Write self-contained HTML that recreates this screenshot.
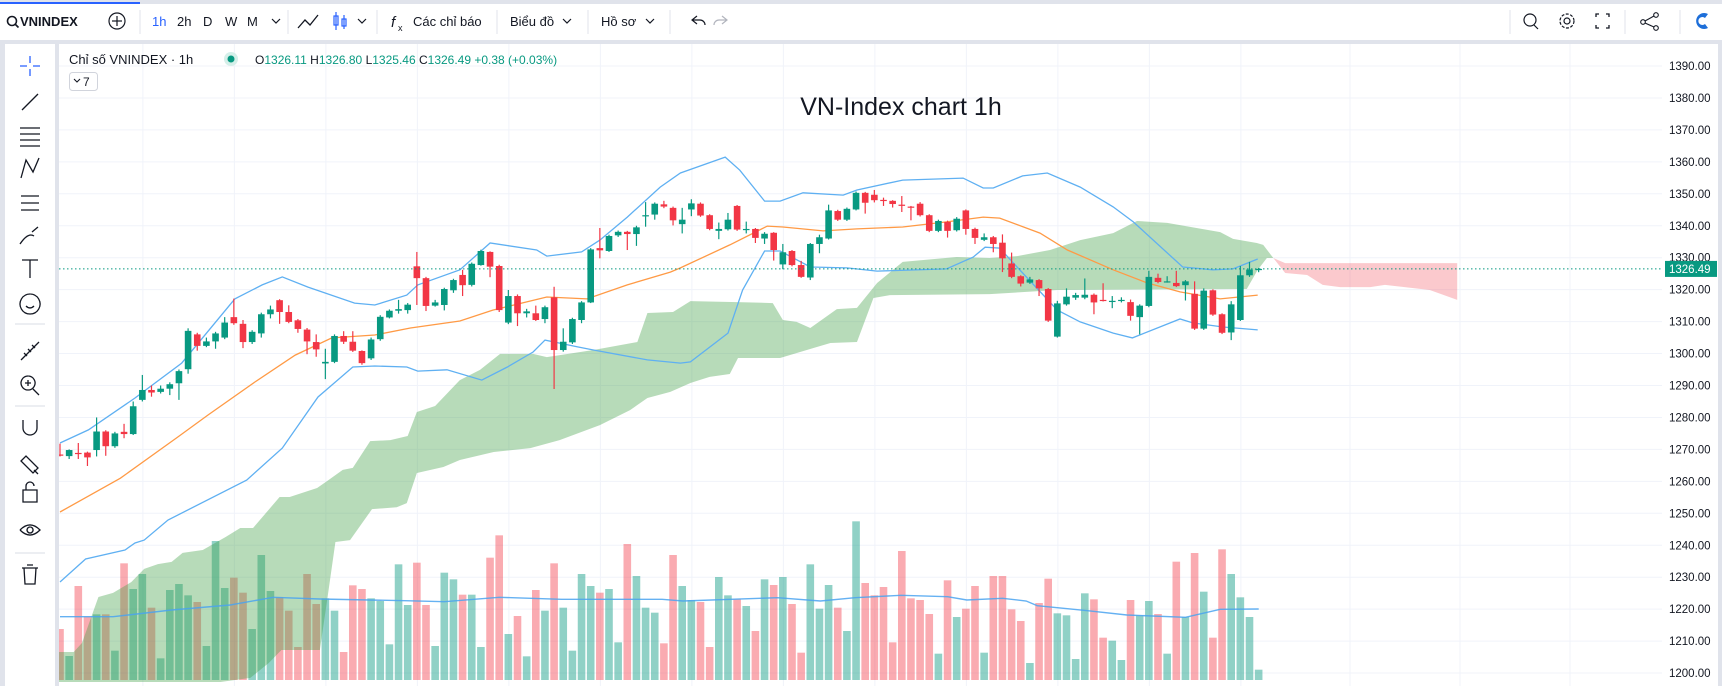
<!DOCTYPE html>
<html><head><meta charset="utf-8">
<style>
html,body{margin:0;padding:0;background:#e0e3eb;}
body{width:1722px;height:686px;overflow:hidden;position:relative;font-family:"Liberation Sans","Noto Sans CJK JP",sans-serif;}
svg{position:absolute;left:0;top:0;}
text{font-family:"Liberation Sans","Noto Sans CJK JP",sans-serif;}
</style></head>
<body>
<svg id="chart" width="1722" height="686" viewBox="0 0 1722 686" xmlns="http://www.w3.org/2000/svg">
  <defs>
    <clipPath id="plotClip"><rect x="59" y="44" width="1603" height="638"/></clipPath>
  </defs>
  <!-- top toolbar -->
  <rect x="0" y="4" width="1722" height="36" fill="#ffffff"/>
  <rect x="0" y="2" width="140" height="2" fill="#2962ff"/>
  <g font-size="13" fill="#131722">
    <g>
      <circle cx="12" cy="21" r="4.5" fill="none" stroke="#131722" stroke-width="1.6"/>
      <line x1="15" y1="24" x2="18.5" y2="27.5" stroke="#131722" stroke-width="1.6"/>
      <text x="20" y="26" font-weight="bold" font-size="13">VNINDEX</text>
    </g>
    <g>
      <circle cx="117" cy="21" r="8" fill="none" stroke="#131722" stroke-width="1.2"/>
      <line x1="112" y1="21" x2="122" y2="21" stroke="#131722" stroke-width="1.2"/>
      <line x1="117" y1="16" x2="117" y2="26" stroke="#131722" stroke-width="1.2"/>
    </g>
    <line x1="140" y1="10" x2="140" y2="34" stroke="#e0e3eb"/>
    <text x="152" y="26" fill="#2962ff">1h</text>
    <text x="177" y="26">2h</text>
    <text x="203" y="26">D</text>
    <text x="225" y="26">W</text>
    <text x="247" y="26">M</text>
    <path d="M272 19 l4 4 l4 -4" fill="none" stroke="#131722" stroke-width="1.2"/>
    <line x1="288" y1="10" x2="288" y2="34" stroke="#e0e3eb"/>
    <path d="M298 28 l7 -8 l5 5 l8 -10" fill="none" stroke="#131722" stroke-width="1.3"/>
    <g stroke="#2962ff" fill="none" stroke-width="1.2">
      <rect x="334" y="16" width="4" height="9"/><line x1="336" y1="12" x2="336" y2="30"/>
      <rect x="342" y="19" width="4" height="7"/><line x1="344" y1="15" x2="344" y2="29"/>
    </g>
    <path d="M358 19 l4 4 l4 -4" fill="none" stroke="#131722" stroke-width="1.2"/>
    <line x1="377" y1="10" x2="377" y2="34" stroke="#e0e3eb"/>
    <g>
      <text x="391" y="27" font-style="italic" font-size="15">f</text>
      <text x="398" y="31" font-size="9">x</text>
      <text x="413" y="26">Các chỉ báo</text>
    </g>
    <line x1="497" y1="10" x2="497" y2="34" stroke="#e0e3eb"/>
    <g>
      <text x="510" y="26">Biểu đồ</text>
      <path d="M563 19 l4 4 l4 -4" fill="none" stroke="#131722" stroke-width="1.2"/>
    </g>
    <line x1="588" y1="10" x2="588" y2="34" stroke="#e0e3eb"/>
    <g>
      <text x="601" y="26">Hồ sơ</text>
      <path d="M646 19 l4 4 l4 -4" fill="none" stroke="#131722" stroke-width="1.2"/>
    </g>
    <line x1="670" y1="10" x2="670" y2="34" stroke="#e0e3eb"/>
    <path d="M697 16 l-5 4 l5 4 M692 20 h8 a5 5 0 0 1 5 5" fill="none" stroke="#131722" stroke-width="1.2"/>
    <path d="M722 16 l5 4 l-5 4 M727 20 h-8 a5 5 0 0 0 -5 5" fill="none" stroke="#b2b5be" stroke-width="1.2"/>
    <line x1="1510" y1="10" x2="1510" y2="34" stroke="#e0e3eb"/>
    <g fill="none" stroke="#131722" stroke-width="1.2">
      <circle cx="1530" cy="20" r="6"/><line x1="1534" y1="25" x2="1538" y2="29"/>
    </g>
    <g fill="none" stroke="#131722" stroke-width="1.2">
      <circle cx="1567" cy="21" r="7" stroke-dasharray="3 1.5"/><circle cx="1567" cy="21" r="3"/>
    </g>
    <path d="M1596 17 v-3 h3 M1606 14 h3 v3 M1609 25 v3 h-3 M1599 28 h-3 v-3" fill="none" stroke="#131722" stroke-width="1.3"/>
    <line x1="1625" y1="10" x2="1625" y2="34" stroke="#e0e3eb"/>
    <g fill="none" stroke="#131722" stroke-width="1.1">
      <circle cx="1643" cy="22" r="2.3"/><circle cx="1656" cy="15" r="2.3"/><circle cx="1656" cy="28" r="2.3"/>
      <line x1="1645" y1="21" x2="1654" y2="16"/><line x1="1645" y1="23" x2="1654" y2="27"/>
    </g>
    <line x1="1680" y1="10" x2="1680" y2="34" stroke="#e0e3eb"/>
    <path d="M1708 14 a8 8 0 1 0 0 14 l-3 -4 a4 4 0 1 1 0 -6 z" fill="#1e6fd9"/>
  </g>

  <!-- left toolbar -->
  <rect x="5" y="44" width="50" height="642" fill="#ffffff"/>
  <g id="leftTools" stroke="#131722" fill="none" stroke-width="1.3"></g>

  <!-- chart panel -->
  <rect x="59" y="44" width="1659" height="642" fill="#ffffff"/>
  <g id="grid"></g>
  <g clip-path="url(#plotClip)">
    <g id="volumes"></g>
    <g id="cloud"></g>
    <g id="lines"></g>
    <g id="candles"></g>
    <line id="lastLine" x1="59" x2="1666" stroke="#089981" stroke-width="1" stroke-dasharray="1.5 2.5"/>
  </g>
  <g id="axis"></g>

  <!-- legend -->
  <g font-size="13">
    <text x="69" y="64" fill="#131722">Chỉ số VNINDEX · 1h</text>
    <circle cx="231" cy="59" r="7" fill="#d5efe9"/>
    <circle cx="231" cy="59" r="3.5" fill="#089981"/>
    <text x="255" y="64" font-size="12"><tspan fill="#131722">O</tspan><tspan fill="#089981">1326.11</tspan><tspan fill="#131722"> H</tspan><tspan fill="#089981">1326.80</tspan><tspan fill="#131722"> L</tspan><tspan fill="#089981">1325.46</tspan><tspan fill="#131722"> C</tspan><tspan fill="#089981">1326.49 +0.38 (+0.03%)</tspan></text>
    <g>
      <rect x="69.5" y="72.5" width="28" height="18" rx="3" fill="#fff" stroke="#d1d4dc"/>
      <path d="M74 79 l3 3 l3 -3" fill="none" stroke="#131722" stroke-width="1.1"/>
      <text x="83" y="86" font-size="12" fill="#131722">7</text>
    </g>
  </g>
  <text x="901" y="115" text-anchor="middle" font-size="25" fill="#131722">VN-Index chart 1h</text>
  <rect x="1718" y="44" width="4" height="642" fill="#e0e3eb"/>
</svg>

<script>
// ---- chart data ----
const opens  = [1268.4,1267.9,1268.9,1269,1269.8,1275.6,1271,1275.5,1274.8,1285.5,1288.6,1288,1289,1290.7,1295.1,1306,1302.4,1303.8,1305,1311.4,1309.3,1303.6,1306.3,1312.3,1316.7,1313,1310.4,1307.5,1303.6,1296.9,1297.4,1305.5,1303.7,1300.8,1298.5,
 1304.5,1311.3,1313.4,1313.6,1327.3,1323.6,1315,1315.2,1319.8,1324.6,1321.5,1327.7,1331.8,1327.4,1309.7,1318,1312.6,1312.6,1310.8,1317.6,1301.1,1303.5,1310.5,1316,1333,1332.1,1337,1338.1,1337.4,1343,1343.5,1346.7,1345.6,
 1340.5,1345.1,1346.9,1343.3,1338.4,1338.9,1346.2,1338.7,1339,1336,1337.8,1327.9,1332.1,1327.7,1323.8,1334.3,1336,1344.6,1341.9,1345.1,1350.3,1349.7,1348.1,1347.8,1346.6,1346,1346.9,1343.3,1338.4,1341.2,1338.6,1344.8,1339,1335.6,
 1336.4,1334.7,1328.2,1324.2,1322.2,1323,1320.2,1305.3,1315.4,1317.5,1317.5,1318.4,1316.8,1316.3,1316.6,1316.1,1311.4,1314.9,1323.7,1322.5,1322.1,1321.4,1318.7,1307.8,1319.8,1312.3,1306.6,1310.5,1324.5,1326.11];
const highs  = [1271.8,1270,1272,1269.3,1280,1276,1275.5,1278,1285,1293.3,1290,1290,1291,1295,1307.9,1306.5,1305,1306.8,1311.4,1317.2,1310.5,1307.3,1312.8,1315,1317,1315.1,1310.8,1308,1306,1301.5,1306,1307,1307,1301,1305,
 1312,1313.8,1316.8,1315.8,1331.8,1324,1316.8,1320.6,1323.4,1326.2,1328.5,1332.5,1332,1327.8,1319.9,1318.5,1314,1315,1315,1320.9,1307.9,1311.2,1316.4,1333,1339.3,1337.2,1338.5,1338.4,1340,1347.4,1347.3,1347.8,1346,
 1345.6,1348.3,1347.3,1343.6,1341,1344,1346.5,1341.3,1339.3,1338,1338,1334.3,1332.4,1329,1334.6,1337.2,1346.6,1345,1345.7,1350.7,1350.6,1351.2,1348.8,1348,1349.3,1346.2,1347.4,1343.6,1341.9,1341.6,1342.7,1345.1,1339.4,1337.6,
 1336.8,1337.3,1331.6,1324.5,1324,1323.3,1320.5,1316.5,1320.4,1319,1323.5,1318.8,1322,1318,1317.6,1316.9,1315.4,1325.9,1325,1324.2,1325.9,1323,1322.6,1320.4,1320.1,1312.6,1316.4,1327.4,1328.7,1326.8];
const lows   = [1267.8,1267,1267,1264.8,1267.8,1268,1270.5,1273.5,1274.5,1285,1286.5,1287.5,1287,1285.5,1293.7,1300.9,1302,1301.5,1304.5,1309,1301.7,1303,1305,1311,1309.3,1309.5,1306.5,1299.8,1299,1292,1297,1303,1300.5,1296.5,1298,
 1304,1311,1312.5,1312.5,1315.2,1313.3,1314.7,1313.5,1319,1318,1321,1327.5,1323.9,1313,1309.2,1308.6,1311.3,1310.2,1309.5,1288.9,1300.6,1303,1309.5,1315.8,1329.8,1331.8,1336.5,1332.4,1333.7,1339.7,1341.9,1345.5,1340.1,
 1337.6,1343,1342.8,1338.6,1335.8,1338.5,1338.4,1337.6,1334.6,1334.3,1329.1,1326.4,1327.3,1323.7,1323,1331.4,1335.7,1341.5,1341.5,1344.8,1343.8,1347.3,1346.2,1345.7,1344.3,1341.7,1342.9,1338,1338,1336.3,1338.2,1337.2,1334.3,1335.2,
 1331.7,1325.5,1323.6,1321,1321.8,1318,1309.9,1305,1315,1316.8,1317,1312.3,1316.3,1314.2,1316,1310.3,1306,1314.5,1322,1322.2,1320.8,1316.6,1307.4,1307.4,1311.8,1306.1,1304.2,1310.2,1324,1325.46];
const closes = [1268.1,1269.8,1268.7,1267.5,1275.6,1271,1275,1274.8,1283.5,1288.6,1287.8,1289,1290.4,1294.5,1307.1,1302.4,1303.8,1306.3,1309.7,1309.5,1303.6,1306.8,1312.3,1313.8,1313,1309.9,1307.7,1303.8,1301.3,1297.4,1305.5,1303.7,1300.9,1297,1304.4,
 1311.5,1313.4,1313.9,1315.3,1323.6,1314.9,1316,1320.2,1323,1321.4,1328.1,1332.1,1327.2,1313.6,1318,1312.6,1313.2,1310.5,1314.5,1301.1,1303.7,1310.8,1316,1332.6,1332.3,1336.8,1338.1,1337.4,1339.5,1343.3,1346.9,1346,1341.7,
 1341.9,1347,1343.2,1339,1339,1341.9,1338.8,1339,1336.2,1337.5,1332.4,1331.7,1327.7,1324,1334.3,1336.4,1344.8,1341.9,1345.3,1350.3,1347.2,1348,1347.8,1346.8,1346.4,1345.8,1343.3,1338.4,1341.5,1338.4,1342.2,1339,1336.2,1336.4,
 1334.3,1329.8,1324,1321.9,1323.2,1320.4,1310.3,1315.7,1317.8,1318.3,1318.4,1316,1316.6,1316.5,1316.8,1311.8,1315,1324,1322.4,1322.6,1321.1,1322.6,1307.8,1319.7,1312.2,1306.5,1315.4,1324.5,1326.3,1326.49];
const volumes = [153,72,282,190,197,197,88,350,273,318,217,65,270,288,254,234,102,417,276,307,262,153,375,267,248,208,99,318,228,245,208,84,284,273,245,237,107,347,225,352,225,102,322,302,256,256,99,367,434,138,192,71,270,208,350,217,88,318,282,262,273,113,408,312,217,202,110,
 375,282,240,234,99,309,254,242,222,147,302,285,309,228,82,347,214,285,217,147,476,291,254,279,113,387,245,240,198,79,299,189,214,282,82,312,312,212,177,51,231,304,200,194,63,260,242,127,118,60,240,194,237,198,79,355,189,381,265,127,392,318,248,189,31];
const volumeMA = [[0,190],[5.8,190],[12.2,210],[18.6,225],[23.3,248],[28.4,243],[37.7,238],[42,235],[48,248],[54.8,242],[65.8,242],[68.1,237],[78.4,247],[83.1,237],[86.9,247],[91.9,254],[97,250],[99.1,240],[103,245],[105.6,237],[106.8,223],[112.3,208],[116.6,195],[123,188],[126.8,212],[131,213]];
const bbUpper = [[0,1272.0],[3.1,1276.1],[8.2,1286.1],[13.3,1297.0],[19.1,1317.1],[22.1,1321.5],[24.3,1324.0],[27.1,1320.8],[32.2,1315.8],[34.4,1315.2],[37.9,1318.3],[39.1,1321.5],[43.7,1326.2],[47,1334.6],[52.1,1332.4],[53.2,1330.5],[57,1331.8],[59,1335.5],[62,1342.7],[65.6,1352.1],[67.8,1356.5],[72.7,1361.5],[74.3,1357.4],[77,1347.7],[78.7,1347.7],[81.2,1350.3],[85.6,1349.6],[87.1,1351.2],[92.1,1354.3],[98.7,1354.9],[100.9,1351.8],[102,1351.8],[105.2,1355.6],[107.9,1356.5],[111.5,1352.1],[115.1,1345.9],[117.3,1341.2],[122.7,1327.1],[126,1326.2],[128.2,1326.5],[130.9,1329.6]];
const bbLower = [[0,1228.5],[2.8,1235.7],[7.1,1238.5],[8.2,1240.7],[9.2,1241.6],[11.8,1247.9],[20.4,1260.4],[24.3,1270.4],[28.2,1286.4],[32,1295.8],[34.4,1296.1],[37.9,1295.8],[39.1,1294.5],[42.3,1294.9],[46.1,1291.7],[48.9,1295.8],[51.7,1300.5],[53,1304.2],[56.5,1302.1],[58.3,1301.1],[64.2,1298.0],[67.8,1297.0],[68.9,1297.4],[73,1306.4],[74.6,1319.9],[77,1332.1],[78.7,1332.1],[82,1327.1],[86,1326.8],[89.3,1325.8],[96.9,1326.5],[99.8,1330.2],[101.1,1333.3],[102.7,1333.0],[104.2,1328.3],[109,1313.6],[111.5,1309.9],[115.1,1306.4],[117.2,1304.9],[122.4,1310.8],[123.8,1309.6],[127.1,1308.3],[130.9,1307.4]];
const maLine = [[0,1250.4],[6.6,1261.0],[12.9,1273.9],[16.2,1280.8],[21.3,1291.1],[25.7,1299.5],[29.7,1304.9],[34.4,1305.8],[38.3,1308.0],[43.7,1310.2],[47.3,1313.6],[53.2,1317.7],[57.6,1317.1],[62,1321.5],[66.7,1325.5],[67.8,1326.8],[73.2,1334.0],[77.3,1339.9],[79,1339.6],[83.4,1338.4],[87.1,1339.0],[92.1,1339.6],[96.9,1341.2],[100.9,1342.7],[102.7,1342.4],[107.1,1337.7],[110.1,1332.4],[115.1,1326.2],[118.8,1322.1],[122.4,1319.3],[126.8,1317.1],[130.9,1318.3]];
const spanA = [[-0.5,1206.6],[1.5,1206.6],[2.4,1209.4],[4.2,1223.8],[5.8,1225.1],[7.8,1228.5],[9.2,1232.6],[10.7,1234.1],[12.2,1234.8],[13.4,1237.6],[15.6,1238.5],[18.1,1242.6],[19.7,1245.4],[21.1,1245.4],[24,1255.1],[25.1,1255.1],[28.1,1257.9],[29.2,1260.1],[30.9,1263.6],[32,1264.2],[33.9,1272.6],[36.1,1272.9],[38,1274.2],[39,1281.7],[41,1283.6],[43.7,1291.7],[45.9,1294.9],[48.1,1299.9],[51.7,1299.9],[53.2,1298.9],[58.3,1301.1],[63.1,1303.6],[64.2,1312.7],[67,1313.0],[68.9,1316.4],[74,1316.1],[77.9,1315.8],[79,1310.5],[80.5,1309.9],[82,1308.0],[84.9,1313.9],[87.1,1314.3],[89.3,1322.1],[92.1,1328.7],[98,1330.2],[101.6,1329.9],[104.6,1330.5],[108.2,1332.4],[111.5,1335.5],[115.1,1337.7],[117.7,1341.5],[121,1340.9],[126.8,1338.0],[128.2,1335.9],[130.8,1334.6],[131.5,1334.0],[132.6,1329.9],[133.9,1325.2],[136.3,1324.6],[138,1321.5],[139.9,1320.8],[143.2,1320.8],[144.8,1321.5],[149.7,1319.9],[152.7,1316.8]];
const spanB = [[-0.5,1190],[20.8,1198.5],[22.8,1203.1],[24.2,1207.2],[28.4,1207.2],[29.2,1222.9],[30.1,1241.0],[31.7,1241.6],[34.1,1251.3],[36.8,1251.9],[37.9,1253.2],[39,1262.6],[41.9,1264.5],[43.7,1266.7],[47.4,1269.2],[51.4,1270.4],[54.6,1272.9],[59,1277.6],[62.3,1282.3],[64.2,1286.1],[66.7,1288.0],[68.9,1290.8],[71,1292.7],[73.2,1293.6],[74.1,1298.6],[78.7,1298.6],[82.3,1301.7],[84.2,1303.3],[87.1,1303.6],[88.9,1317.4],[90.7,1318.3],[101.6,1318.6],[109,1319.9],[129.7,1320.2],[130.9,1326.2],[131.9,1329.9],[132.6,1329.9],[133.9,1328.3],[152.7,1328.3]];
const priceTicks = [1390,1380,1370,1360,1350,1340,1330,1320,1310,1300,1290,1280,1270,1260,1250,1240,1230,1220,1210,1200];
const timeGridIdx = [9,19,29,39,49,59,69,79,89,99,109,119,129];
const lastPrice = 1326.49;

// ---- scales ----
function xI(i){ return 60 + i*9.15; }
function yP(p){ return 66 + (1390 - p)*3.195; }
function yV(v){ return 680 - v/3; }
const NS = 'http://www.w3.org/2000/svg';
function mk(tag, attrs, parent){
  const e = document.createElementNS(NS, tag);
  for (const k in attrs) e.setAttribute(k, attrs[k]);
  parent.appendChild(e);
  return e;
}
function interp(arr, idx){
  if (idx <= arr[0][0]) return arr[0][1];
  for (let k=1;k<arr.length;k++){
    if (idx <= arr[k][0]){
      const a=arr[k-1], b=arr[k];
      return a[1] + (b[1]-a[1])*(idx-a[0])/(b[0]-a[0]);
    }
  }
  return arr[arr.length-1][1];
}

// grid
const grid = document.getElementById('grid');
priceTicks.forEach(function(p){
  const l = mk('line', {x1:59, x2:1662, y1:yP(p), y2:yP(p), stroke:'#f0f3fa', 'stroke-width':1}, grid);
  
  
});
timeGridIdx.forEach(function(i){
  const l = mk('line', {x1:xI(i)+0.5, x2:xI(i)+0.5, y1:44, y2:686, stroke:'#f0f3fa', 'stroke-width':1}, grid);
  
  
});
[1350,1460,1570].forEach(function(x){
  const l = mk('line', {x1:x, x2:x, y1:44, y2:686, stroke:'#f0f3fa', 'stroke-width':1}, grid);
  
  
});

// volumes
const vg = document.getElementById('volumes');
volumes.forEach(function(v, i){
  const up = closes[i] >= opens[i];
  const r = mk('rect', {x:xI(i)-3.8, y:yV(v), width:7.6, height:v/3, fill: up ? 'rgba(8,153,129,0.45)' : 'rgba(242,54,69,0.42)'}, vg);
  
  
});

// cloud
const cg = document.getElementById('cloud');
let cross = 200;
for (let t=0; t<=153; t+=0.05){ if (interp(spanA,t) < interp(spanB,t) - 0.05){ cross = t; break; } }
const poly = spanA.map(function(p){ return xI(p[0])+','+yP(p[1]); }).concat(spanB.slice().reverse().map(function(p){ return xI(p[0])+','+yP(p[1]); })).join(' ');
const defs = document.querySelector('defs');
const cpG = mk('clipPath', {id:'cloudG'}, defs);
mk('rect', {x:0, y:0, width:xI(cross), height:686}, cpG);
const cpR = mk('clipPath', {id:'cloudR'}, defs);
mk('rect', {x:xI(cross), y:0, width:1722, height:686}, cpR);
const cloudGreen = mk('polygon', {points:poly, fill:'rgba(67,160,71,0.38)', 'clip-path':'url(#cloudG)'}, cg);


const cloudRed = mk('polygon', {points:poly, fill:'rgba(242,54,69,0.27)', 'clip-path':'url(#cloudR)'}, cg);



// lines
const lg = document.getElementById('lines');
function pathOf(arr, yfn){ return arr.map(function(p,k){ return (k?'L':'M') + xI(p[0]).toFixed(1) + ' ' + yfn(p[1]).toFixed(1); }).join(' '); }
const vma = mk('path', {d:pathOf(volumeMA, yV), fill:'none', stroke:'#4aa3f0', 'stroke-width':1.4, opacity:0.85}, lg);


const up = mk('path', {d:pathOf(bbUpper, yP), fill:'none', stroke:'#5fb0f2', 'stroke-width':1.3}, lg);


const lo = mk('path', {d:pathOf(bbLower, yP), fill:'none', stroke:'#5fb0f2', 'stroke-width':1.3}, lg);


const ma = mk('path', {d:pathOf(maLine, yP), fill:'none', stroke:'#ff9a45', 'stroke-width':1.3}, lg);



// candles
const kg = document.getElementById('candles');
opens.forEach(function(o, i){
  const c = closes[i], isUp = c >= o;
  const col = isUp ? '#089981' : '#f23645';
  const g = mk('g', {}, kg);
  
  
  mk('line', {x1:xI(i), x2:xI(i), y1:yP(highs[i]), y2:yP(lows[i]), stroke:col, 'stroke-width':1.2}, g);
  const top = yP(Math.max(o,c)), bot = yP(Math.min(o,c));
  mk('rect', {x:xI(i)-3.3, y:top, width:6.6, height:Math.max(1.2, bot-top), fill:col}, g);
});
document.getElementById('lastLine').setAttribute('y1', yP(lastPrice));
document.getElementById('lastLine').setAttribute('y2', yP(lastPrice));

// axis
const ax = document.getElementById('axis');
priceTicks.forEach(function(p){
  const t = mk('text', {x:1669, y:yP(p)+4, 'font-size':11.5, fill:'#131722'}, ax);
  t.textContent = p.toFixed(2);
  
  
});
const tag = mk('rect', {x:1665, y:yP(lastPrice)-8, width:52, height:16, fill:'#089981'}, ax);


const tagT = mk('text', {x:1669, y:yP(lastPrice)+4, 'font-size':11.5, fill:'#ffffff'}, ax);
tagT.textContent = lastPrice.toFixed(2);



// left toolbar icons
const lt = document.getElementById('leftTools');
const icons = [
  ['crosshair-tool', 66, 'M30 56 v7 M30 69 v7 M20 66 h7 M33 66 h7', '#2962ff'],
  ['trend-line-tool', 102, 'M22 110 L38 94', '#131722'],
  ['fib-retracement-tool', 135, 'M20 128 h20 M20 134 h20 M20 140 h20 M20 146 h20', '#131722'],
  ['pattern-tool', 168, 'M21 178 L26 160 L33 172 L39 158', '#131722'],
  ['projection-tool', 203, 'M21 196 h18 M21 203 h18 M21 210 h18', '#131722'],
  ['brush-tool', 236, 'M20 244 q8 -12 14 -8 M32 232 l6 -5', '#131722'],
  ['text-tool', 269, 'M22 260 h16 M30 260 v18', '#131722'],
  ['emoji-tool', 304, 'M30 294 a10 10 0 1 0 0.1 0 M26 306 q4 4 8 0', '#131722'],
  ['measure-tool', 351, 'M21 360 L39 342 M24 353 l3 3 M28 349 l3 3 M32 345 l3 3', '#131722'],
  ['zoom-tool', 384, 'M28 376 a7 7 0 1 0 0.1 0 M33 389 l6 6 M25 383 h6 M28 380 v6', '#131722'],
  ['magnet-tool', 428, 'M23 420 v8 a7 7 0 0 0 14 0 v-8', '#131722'],
  ['lock-drawings-tool', 496, 'M23 490 h14 v12 h-14 z M26 490 v-4 a4 4 0 0 1 8 0', '#131722'],
  ['stay-in-drawing-tool', 461, 'M21 461 l5 -5 l12 12 l-5 5 z M34 470 l4 4', '#131722'],
  ['hide-drawings-tool', 530, 'M20 530 q10 -10 20 0 q-10 10 -20 0 M30 527 a3 3 0 1 0 0.1 0', '#131722'],
  ['remove-drawings-tool', 576, 'M22 568 h16 M24 568 l1 16 h10 l1 -16 M27 565 h6', '#131722']
];
icons.forEach(function(ic){
  const p = mk('path', {d:ic[2], stroke:ic[3]}, lt);
  
  
});
[324, 406, 553].forEach(function(y){
  const s = mk('line', {x1:15, x2:45, y1:y, y2:y, stroke:'#e0e3eb'}, lt);
  
  
});
</script>
</body></html>
